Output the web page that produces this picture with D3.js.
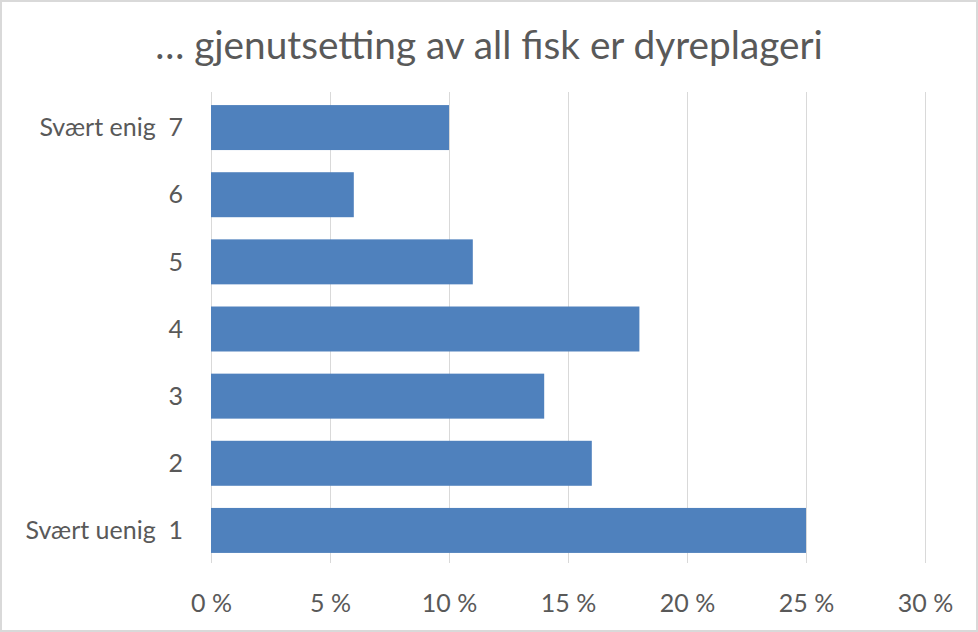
<!DOCTYPE html>
<html>
<head>
<meta charset="utf-8">
<script src="https://cdn.jsdelivr.net/npm/d3@7"></script>
<style>
  html, body { margin: 0; padding: 0; background: #fff; }
  svg { display: block; }
  text { font-family: Lato, "Open Sans", sans-serif; fill: #595959; }
</style>
</head>
<body>
<svg id="chart" width="978" height="632"></svg>
<script>
const title = "… gjenutsetting av all fisk er dyreplageri";
const categories = ["Svært enig  7", "6", "5", "4", "3", "2", "Svært uenig  1"];
const values = [0.10, 0.06, 0.11, 0.18, 0.14, 0.16, 0.25];
const tickValues = [0, 0.05, 0.10, 0.15, 0.20, 0.25, 0.30];
const tickLabels = ["0 %", "5 %", "10 %", "15 %", "20 %", "25 %", "30 %"];

const W = 978, H = 632;
const margin = {top: 92, right: 53, bottom: 69, left: 211};
const svg = d3.select("#chart");

svg.append("rect")
  .attr("x", 1).attr("y", 1).attr("width", W - 2).attr("height", H - 2)
  .attr("fill", "#fff").attr("stroke", "#d9d9d9").attr("stroke-width", 2);

const x = d3.scaleLinear().domain([0, 0.30]).range([margin.left, W - margin.right]);
const y = d3.scaleBand().domain(categories).range([margin.top + 2, H - margin.bottom + 1]).paddingInner(0.33).paddingOuter(0.165);

// gridlines
svg.append("g").selectAll("line").data(tickValues).join("line")
  .attr("x1", d => Math.round(x(d)) + 0.5).attr("x2", d => Math.round(x(d)) + 0.5)
  .attr("y1", margin.top).attr("y2", H - margin.bottom)
  .attr("stroke", "#d9d9d9").attr("stroke-width", 1);

// bars
svg.append("g").selectAll("rect").data(values).join("rect")
  .attr("x", x(0))
  .attr("y", (d, i) => y(categories[i]))
  .attr("width", d => x(d) - x(0))
  .attr("height", y.bandwidth())
  .attr("fill", "#4f81bd");

// x axis labels
const xAxis = d3.axisBottom(x).tickValues(tickValues).tickFormat((d, i) => tickLabels[i]).tickSize(0).tickPadding(0);
const gx = svg.append("g").attr("transform", `translate(0,${H - margin.bottom + 40})`).call(xAxis);
gx.select(".domain").remove();
gx.attr("font-size", 25).attr("font-family", "Lato, 'Open Sans', sans-serif");
gx.selectAll("text").attr("dy", "0.35em").attr("fill", "#595959");

// y axis labels
const yAxis = d3.axisLeft(y).tickSize(0).tickPadding(0);
const gy = svg.append("g").attr("transform", `translate(${margin.left - 28},0)`).call(yAxis);
gy.select(".domain").remove();
gy.attr("font-size", 25).attr("font-family", "Lato, 'Open Sans', sans-serif");
gy.selectAll("text").style("white-space", "pre").attr("fill", "#595959").attr("dy", "0.35em");

// title
const t = svg.append("text").attr("x", W / 2).attr("y", 45).attr("text-anchor", "middle")
  .attr("dy", "0.35em").attr("font-size", 32).text(title);
const tw = t.node().getComputedTextLength();
const target = 668;
t.attr("font-size", 32 * target / tw);
</script>
</body>
</html>
